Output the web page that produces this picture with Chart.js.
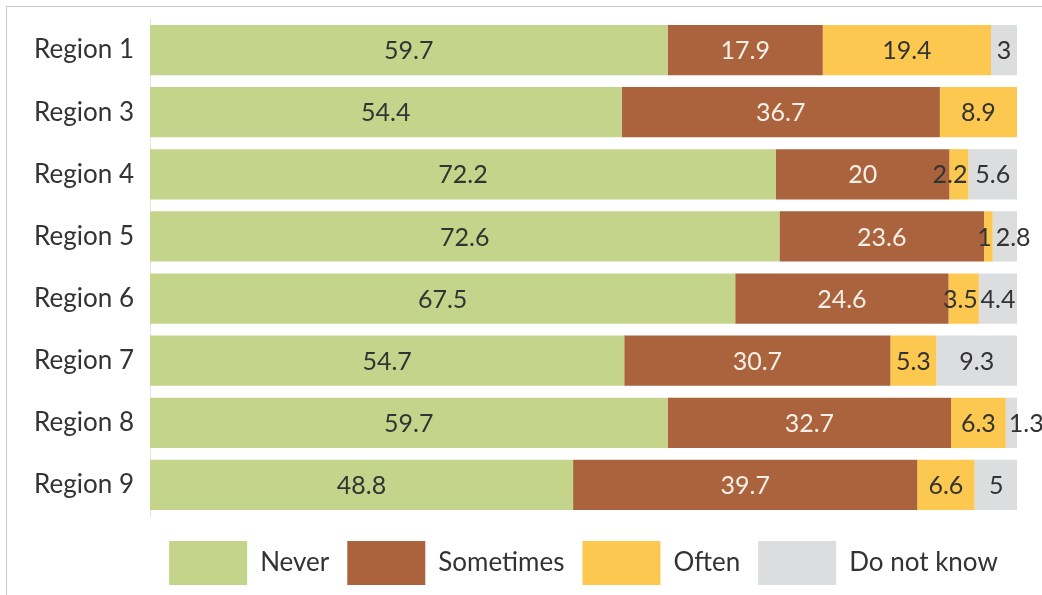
<!DOCTYPE html>
<html>
<head>
<meta charset="utf-8">
<script src="https://cdn.jsdelivr.net/npm/chart.js@4/dist/chart.umd.min.js"></script>
<style>
  html, body { margin: 0; padding: 0; background: #fff; }
  #wrap { position: relative; width: 1042px; height: 595px; }
  #frame { position: absolute; left: 6px; top: 6px; right: 0; bottom: 0;
           border-top: 1px solid #c8c8c8; border-left: 1px solid #c8c8c8; pointer-events: none; }
</style>
</head>
<body>
<div id="wrap">
  <canvas id="myChart" width="1042" height="595"></canvas>
  <div id="frame"></div>
</div>
<script>
var regions = ["Region 1", "Region 3", "Region 4", "Region 5", "Region 6", "Region 7", "Region 8", "Region 9"];
var never = [59.7, 54.4, 72.2, 72.6, 67.5, 54.7, 59.7, 48.8];
var sometimes = [17.9, 36.7, 20, 23.6, 24.6, 30.7, 32.7, 39.7];
var often = [19.4, 8.9, 2.2, 1, 3.5, 5.3, 6.3, 6.6];
var dontKnow = [3, 0, 5.6, 2.8, 4.4, 9.3, 1.3, 5];

var FONT = "Lato, sans-serif";

// value of every segment: centred, or pushed to one edge if it does not fit
var barLabels = {
    id: 'barLabels',
    afterDatasetsDraw: function(chart) {
        var ctx = chart.ctx;
        var last = chart.data.datasets.length - 1;
        ctx.save();
        ctx.font = "25px " + FONT;
        ctx.textBaseline = 'middle';
        chart.data.datasets.forEach(function(ds, i) {
            var meta = chart.getDatasetMeta(i);
            meta.data.forEach(function(bar, j) {
                var v = ds.data[j];
                if (!v) return;
                var txt = String(v);
                var w = ctx.measureText(txt).width;
                var x0 = Math.min(bar.base, bar.x), x1 = Math.max(bar.base, bar.x);
                ctx.fillStyle = ds.labelColor;
                if (w <= x1 - x0 + 3) {
                    ctx.textAlign = 'center';
                    ctx.fillText(txt, (x0 + x1) / 2, bar.y + 1);
                } else if (i === last) {
                    ctx.textAlign = 'left';
                    ctx.fillText(txt, x0 + 3, bar.y + 1);
                } else {
                    ctx.textAlign = 'right';
                    ctx.fillText(txt, x1 - 1, bar.y + 1);
                }
            });
        });
        ctx.restore();
    }
};

var ctx = document.getElementById("myChart").getContext("2d");
var myChart = new Chart(ctx, {
    type: 'bar',
    data: {
        labels: regions,
        datasets: [{
            label: 'Never',
            data: never,
            backgroundColor: '#c5d48b',
            labelColor: '#333333'
        }, {
            label: 'Sometimes',
            data: sometimes,
            backgroundColor: '#aa633d',
            labelColor: '#f6efe6'
        }, {
            label: 'Often',
            data: often,
            backgroundColor: '#fdc84f',
            labelColor: '#333333'
        }, {
            label: 'Do not know',
            data: dontKnow,
            backgroundColor: '#dcdddf',
            labelColor: '#333333'
        }]
    },
    options: {
        indexAxis: 'y',
        responsive: false,
        animation: false,
        maintainAspectRatio: false,
        categoryPercentage: 1,
        barPercentage: 0.81,
        layout: {
            padding: { top: 19, right: 25, bottom: 0, left: 0 }
        },
        scales: {
            x: {
                stacked: true,
                min: 0,
                max: 100,
                display: false
            },
            y: {
                stacked: true,
                grid: { display: false, drawTicks: false },
                border: { display: true, color: '#e3e3e3', width: 1 },
                ticks: {
                    color: '#333333',
                    font: { family: FONT, size: 26 },
                    padding: 16
                },
                afterFit: function(scale) {
                    scale.width = 150;
                    scale.paddingTop = 0;
                    scale.paddingBottom = 0;
                }
            }
        },
        plugins: {
            legend: {
                position: 'bottom',
                fullSize: false,
                align: 'center',
                // empty title only adds a little space above the legend
                title: {
                    display: true,
                    text: ' ',
                    padding: 0,
                    font: { size: 7, lineHeight: 1 }
                },
                labels: {
                    boxWidth: 78,
                    boxHeight: 44,
                    padding: 18,
                    color: '#333333',
                    font: { family: FONT, size: 26 }
                }
            },
            tooltip: { enabled: false }
        }
    },
    plugins: [barLabels]
});
</script>
</body>
</html>
